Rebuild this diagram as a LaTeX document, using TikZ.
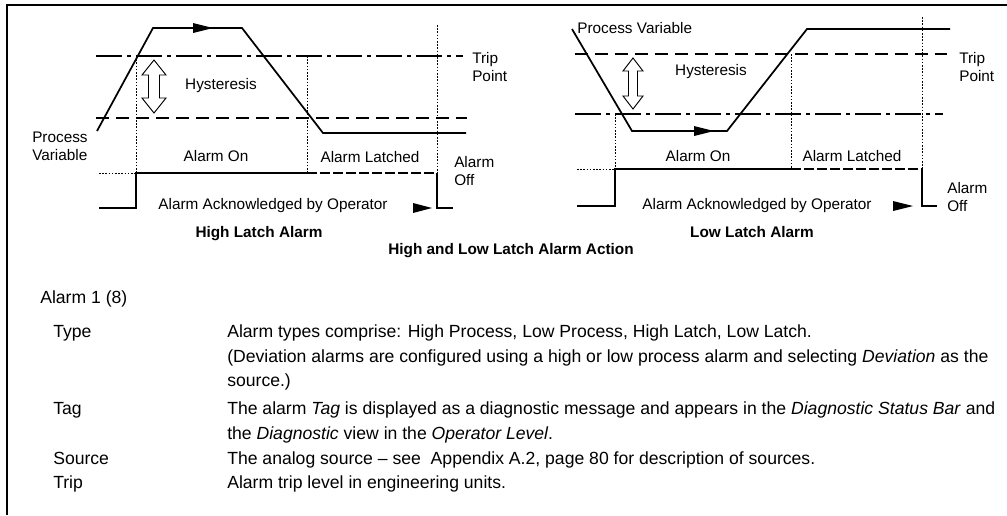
\documentclass[tikz,border=0pt]{standalone}
\usepackage{fontspec}
\setmainfont{Liberation Sans}
\begin{document}
\begin{tikzpicture}[x=0.75pt,y=-0.75pt,
  frame/.style={line width=0.9pt},
  pv/.style={line width=1.3pt,line join=miter},
  trippt/.style={line width=0.9pt,dash pattern=on 19.5pt off 3.75pt on 3pt off 3.75pt},
  hystline/.style={line width=0.9pt,dash pattern=on 9.75pt off 5.25pt},
  guide/.style={line width=0.6pt,dash pattern=on 1.2pt off 1.2pt},
  sig/.style={line width=1.3pt},
  latched/.style={line width=1.3pt,dash pattern=on 7.5pt off 2.25pt},
  tipfill/.style={fill=black},
  hollow/.style={draw,line width=0.7pt,fill=white,line join=miter},
  lbl/.style={font=\fontsize{11.5}{13.5}\selectfont,inner sep=0pt},
  ttl/.style={font=\bfseries\fontsize{11.5}{13.5}\selectfont,inner sep=0pt,anchor=base},
  body/.style={font=\fontsize{13.2}{18}\selectfont,inner sep=0pt,anchor=base west}]
\useasboundingbox (0,0) rectangle (1007,515);

% frame
\draw[frame] (7,515) -- (7,5) -- (1007,5);

% ---------------- High latch alarm ----------------
\draw[trippt] (96,56) -- (463,56);
\draw[hystline] (96,118) -- (467,118);
\draw[guide] (136,56) -- (136,173);
\draw[guide] (307,56) -- (307,173);
\draw[guide] (437,25) -- (437,173);
\draw[pv] (97,131) -- (153,28) -- (242,28) -- (323,133) -- (466,133);
\fill[tipfill] (193,23) -- (213,28) -- (193,33) -- cycle;
\draw[guide] (99,173) -- (136,173);
\draw[sig] (99,208) -- (136,208) -- (136,173) -- (307,173);
\draw[latched] (307,173) -- (437,173);
\draw[sig] (437,173) -- (437,208) -- (453,208);
\fill[tipfill] (413,203) -- (432,208) -- (413,213) -- cycle;
\draw[hollow,shift={(154,60)}] (0,0) -- (12,15) -- (5.5,15) -- (5.5,38) -- (12,38) -- (0,53)
  -- (-12,38) -- (-5.5,38) -- (-5.5,15) -- (-12,15) -- cycle;

\node[lbl,anchor=base] (hysL) at (221,89.5) {Hysteresis};
\node[lbl,anchor=west,align=left] (pvL) at (32,146.5) {Process\\Variable};
\node[lbl,anchor=base] (onL) at (216,161.5) {Alarm On};
\node[lbl,anchor=base] (latL) at (370,162.5) {Alarm Latched};
\node[lbl,anchor=west,align=left] (offL) at (454,171) {Alarm\\Off};
\node[lbl,anchor=west,align=left] (tripL) at (472,67.5) {Trip\\Point};
\node[lbl,anchor=base] (ackL) at (273,209.5) {Alarm Acknowledged by Operator};
\node[ttl] (titleL) at (259,237.5) {High Latch Alarm};
\node[ttl] (titleC) at (511,254.5) {High and Low Latch Alarm Action};

% ---------------- Low latch alarm ----------------
\draw[hystline] (575,54) -- (947,54);
\draw[trippt] (575,114) -- (943,114);
\draw[guide] (615,114) -- (615,169);
\draw[guide] (791,54) -- (791,169);
\draw[guide] (922,17) -- (922,169);
\draw[pv] (572,29) -- (632,131) -- (727,131) -- (807,29) -- (950,29);
\fill[tipfill] (694,126) -- (714,131) -- (694,136) -- cycle;
\draw[guide] (577,169) -- (615,169);
\draw[sig] (577,206) -- (615,206) -- (615,169) -- (791,169);
\draw[latched] (791,169) -- (922,169);
\draw[sig] (922,169) -- (922,206) -- (937,206);
\fill[tipfill] (893,201) -- (913,206) -- (893,211) -- cycle;
\draw[hollow,shift={(633,58)}] (0,0) -- (10,13) -- (4.5,13) -- (4.5,38) -- (10,38) -- (0,51)
  -- (-10,38) -- (-4.5,38) -- (-4.5,13) -- (-10,13) -- cycle;

\node[lbl,anchor=west] (pvR) at (577,28) {Process Variable};
\node[lbl,anchor=base] (hysR) at (711,75.5) {Hysteresis};
\node[lbl,anchor=base] (onR) at (698,161.5) {Alarm On};
\node[lbl,anchor=base] (latR) at (852,161.5) {Alarm Latched};
\node[lbl,anchor=west,align=left] (tripR) at (959,67) {Trip\\Point};
\node[lbl,anchor=west,align=left] (offR) at (947,197) {Alarm\\Off};
\node[lbl,anchor=base] (ackR) at (757,209.5) {Alarm Acknowledged by Operator};
\node[ttl] (titleR) at (752,237.5) {Low Latch Alarm};

% ---------------- parameter text ----------------
\node[body] (hdr) at (40,303) {Alarm 1 (8)};
\node[body] (kType) at (53,337) {Type};
\node[body] (dType1) at (227,337) {Alarm types comprise: High Process, Low Process, High Latch, Low Latch.};
\node[body] (dType2) at (227,362) {(Deviation alarms are configured using a high or low process alarm and selecting \textit{Deviation} as the};
\node[body] (dType3) at (227,386) {source.)};
\node[body] (kTag) at (53,414) {Tag};
\node[body] (dTag1) at (227,414) {The alarm \textit{Tag} is displayed as a diagnostic message and appears in the \textit{Diagnostic Status Bar} and};
\node[body] (dTag2) at (227,439) {the \textit{Diagnostic} view in the \textit{Operator Level}.};
\node[body] (kSrc) at (53,464) {Source};
\node[body] (dSrc) at (227,464) {The analog source -- see\ \ Appendix A.2, page 80 for description of sources.};
\node[body] (kTrip) at (53,488) {Trip};
\node[body] (dTrip) at (227,488) {Alarm trip level in engineering units.};
\end{tikzpicture}
\end{document}
